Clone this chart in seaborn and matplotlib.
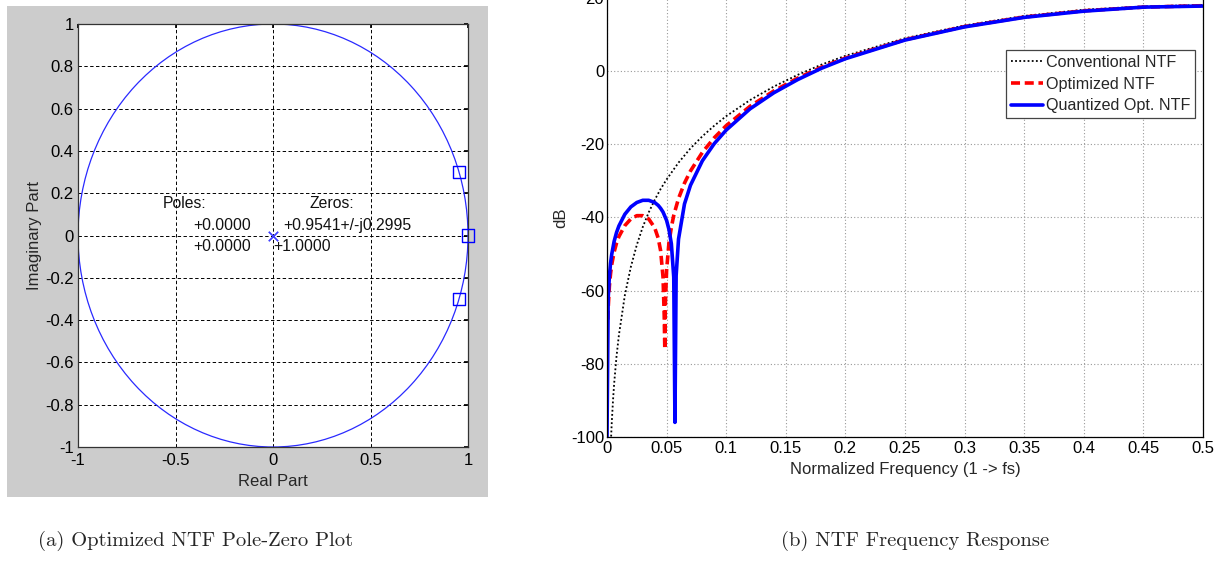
import numpy as np
import pandas as pd
import matplotlib
matplotlib.use("Agg")
import matplotlib.pyplot as plt
import seaborn as sns
from matplotlib.patches import Rectangle, Circle

# ---------------- data ----------------
zeros_re = [0.9541, 0.9541, 1.0]
zeros_im = [0.2995, -0.2995, 0.0]
poles_re = [0.0, 0.0]
poles_im = [0.0, 0.0]

pz_xticks = [-1, -0.5, 0, 0.5, 1]
pz_xlabels = ["-1", "-0.5", "0", "0.5", "1"]
pz_yticks = [-1, -0.8, -0.6, -0.4, -0.2, 0, 0.2, 0.4, 0.6, 0.8, 1]
pz_ylabels = ["-1", "-0.8", "-0.6", "-0.4", "-0.2", "0", "0.2", "0.4", "0.6", "0.8", "1"]

conv_f = [0.0033, 0.004, 0.005, 0.006, 0.008, 0.01, 0.015, 0.02, 0.025, 0.03,
          0.035, 0.04, 0.045, 0.05, 0.06, 0.07, 0.08, 0.09, 0.1, 0.12, 0.14,
          0.16, 0.18, 0.2, 0.25, 0.3, 0.35, 0.4, 0.45, 0.5]
conv_db = [-101.0, -96.0, -90.2, -85.4, -77.9, -72.1, -61.2, -53.5, -47.5, -42.6,
           -38.6, -35.2, -32.2, -29.6, -25.0, -21.1, -17.8, -14.9, -12.3, -7.9, -4.2,
           -1.0, 1.8, 4.2, 9.0, 12.5, 15.1, 16.8, 17.7, 18.1]

opt_f = [0.0007, 0.001, 0.002, 0.003, 0.004, 0.006, 0.008, 0.01, 0.015, 0.02,
         0.025, 0.03, 0.035, 0.04, 0.043, 0.045, 0.047, 0.048, 0.0485, 0.049,
         0.05, 0.052, 0.054, 0.056, 0.06, 0.065, 0.07, 0.08, 0.09, 0.1, 0.12,
         0.14, 0.16, 0.18, 0.2, 0.25, 0.3, 0.35, 0.4, 0.45, 0.5]
opt_db = [-67.9, -64.8, -58.8, -55.3, -52.8, -49.4, -47.0, -45.2, -42.2, -40.4,
          -39.5, -39.5, -40.4, -42.8, -45.7, -49.1, -56.3, -66.8, -76.0, -63.2,
          -54.4, -46.8, -42.7, -39.4, -34.8, -30.6, -27.3, -22.2, -18.2, -14.9, -9.6,
          -5.4, -1.9, 1.1, 3.6, 8.6, 12.2, 14.8, 16.5, 17.5, 17.9]

quant_f = [0.0, 0.001, 0.002, 0.003, 0.004, 0.006, 0.008, 0.01, 0.015, 0.02,
           0.025, 0.03, 0.035, 0.04, 0.043, 0.045, 0.047, 0.05, 0.052, 0.054,
           0.056, 0.057, 0.058, 0.06, 0.065, 0.07, 0.08, 0.09, 0.1, 0.12,
           0.14, 0.16, 0.18, 0.2, 0.25, 0.3, 0.35, 0.4, 0.45, 0.5]
quant_db = [-100.0, -62.0, -56.0, -52.4, -50.0, -46.5, -44.1, -42.3, -39.1, -37.1,
            -35.9, -35.3, -35.3, -35.9, -36.7, -37.5, -38.5, -40.8, -43.3, -47.2,
            -56.3, -96.0, -55.9, -45.9, -36.3, -31.2, -24.5, -19.8, -16.1, -10.3,
            -5.9, -2.3, 0.8, 3.4, 8.5, 12.1, 14.7, 16.4, 17.5, 17.8]

fr_xticks = [0, 0.05, 0.1, 0.15, 0.2, 0.25, 0.3, 0.35, 0.4, 0.45, 0.5]
fr_xlabels = ["0", "0.05", "0.1", "0.15", "0.2", "0.25", "0.3", "0.35", "0.4", "0.45", "0.5"]
fr_yticks = [-100, -80, -60, -40, -20, 0, 20]
fr_ylabels = ["-100", "-80", "-60", "-40", "-20", "0", "20"]

# ---------------- style ----------------
sns.set_theme(style="white")
plt.rcParams['font.family'] = ['Liberation Sans', 'DejaVu Sans']
plt.rcParams['axes.unicode_minus'] = False
FS = 12.0

W, H = 1224, 564
fig = plt.figure(figsize=(W / 100, H / 100), dpi=100)
fig.patch.set_facecolor('white')

# gray MATLAB figure background for panel (a)
fig.patches.append(Rectangle((7 / W, (H - 497) / H), 481 / W, 491 / H,
                             transform=fig.transFigure, facecolor='#cccccc',
                             edgecolor='none', zorder=-10))

# ---------------- panel (a) ----------------
ax1 = fig.add_axes([78 / W, (H - 447) / H, 390 / W, 423 / H])
ax1.set_zorder(2)
ax1.set_facecolor('white')
ax1.add_patch(Circle((0, 0), 1, fill=False, ec='#2a2aff', lw=0.9, zorder=2))
sns.scatterplot(x=zeros_re, y=zeros_im, ax=ax1, marker='s', s=75,
                facecolor='none', edgecolor='#0000ff', linewidth=1.0, zorder=4,
                clip_on=False)
sns.scatterplot(x=poles_re, y=poles_im, ax=ax1, marker='x', s=45,
                color='#4040ff', linewidth=1.0, zorder=4, clip_on=False)
ax1.set_xlim(-1, 1)
ax1.set_ylim(-1, 1)
ax1.set_xticks(pz_xticks, pz_xlabels)
ax1.set_yticks(pz_yticks, pz_ylabels)
ax1.grid(True, color='black', linestyle=(0, (3.5, 2.5)), linewidth=0.7)
ax1.tick_params(direction='in', length=3, labelsize=FS, colors='black',
                top=True, right=True)
ax1.tick_params(axis='x', pad=4)
ax1.tick_params(axis='y', pad=3)
for sp in ax1.spines.values():
    sp.set_color('#333333')
    sp.set_linewidth(0.9)
ax1.set_xlabel("Real Part", fontsize=FS, labelpad=5)
ax1.set_ylabel("Imaginary Part", fontsize=FS, labelpad=2)

txt_kw = dict(fontsize=11.3, color='#111111', va='center', ha='left')
ax1.text(-0.565, 0.15, "Poles:", **txt_kw)
ax1.text(-0.41, 0.048, "+0.0000", **txt_kw)
ax1.text(-0.41, -0.051, "+0.0000", **txt_kw)
ax1.text(0.186, 0.15, "Zeros:", **txt_kw)
ax1.text(0.05, 0.048, "+0.9541+/-j0.2995", **txt_kw)
ax1.text(0.002, -0.051, "+1.0000", **txt_kw)

# ---------------- panel (b) ----------------
ax2 = fig.add_axes([607 / W, (H - 437) / H, 596 / W, 439 / H])
sns.lineplot(x=conv_f, y=conv_db, ax=ax2, color='black', linewidth=1.3,
             linestyle=(0, (1, 1.3)), label="Conventional NTF", estimator=None)
sns.lineplot(x=opt_f, y=opt_db, ax=ax2, color='#ff0000', linewidth=2.6,
             linestyle=(0, (2.5, 1.3)), label="Optimized NTF", estimator=None)
sns.lineplot(x=quant_f, y=quant_db, ax=ax2, color='#0000ff', linewidth=2.6,
             label="Quantized Opt. NTF", estimator=None)
ax2.set_xlim(0, 0.5)
ax2.set_ylim(-100, 20)
ax2.set_xticks(fr_xticks, fr_xlabels)
ax2.set_yticks(fr_yticks, fr_ylabels)
ax2.grid(True, color='#999999', linestyle=(0, (1, 2)), linewidth=0.8)
ax2.tick_params(direction='in', length=5, width=0.8, labelsize=FS,
                colors='#555555', labelcolor='black', top=False, right=False)
ax2.tick_params(axis='x', pad=3)
ax2.tick_params(axis='y', pad=2)
for sp in ax2.spines.values():
    sp.set_color('black')
    sp.set_linewidth(0.9)
ax2.set_xlabel("Normalized Frequency (1 -> fs)", fontsize=FS, labelpad=4)
ax2.set_ylabel("dB", fontsize=FS, labelpad=2)

leg = ax2.legend(loc='upper right', bbox_to_anchor=((1195 - 607) / 596, (437 - 50) / 439),
                 fontsize=11.6, frameon=True, fancybox=False, framealpha=1,
                 edgecolor='#444444', handlelength=2.0, handletextpad=0.15,
                 borderpad=0.3, labelspacing=0.42, borderaxespad=0)
leg.get_frame().set_linewidth(0.9)

# ---------------- captions ----------------
fig.text(196 / W, 1 - 541 / H, "(a) Optimized NTF Pole-Zero Plot",
         family='cmr10', fontsize=14.8, ha='center', va='center')
fig.text(915 / W, 1 - 541 / H, "(b) NTF Frequency Response",
         family='cmr10', fontsize=14.8, ha='center', va='center')

fig.savefig("out.png", dpi=100)
